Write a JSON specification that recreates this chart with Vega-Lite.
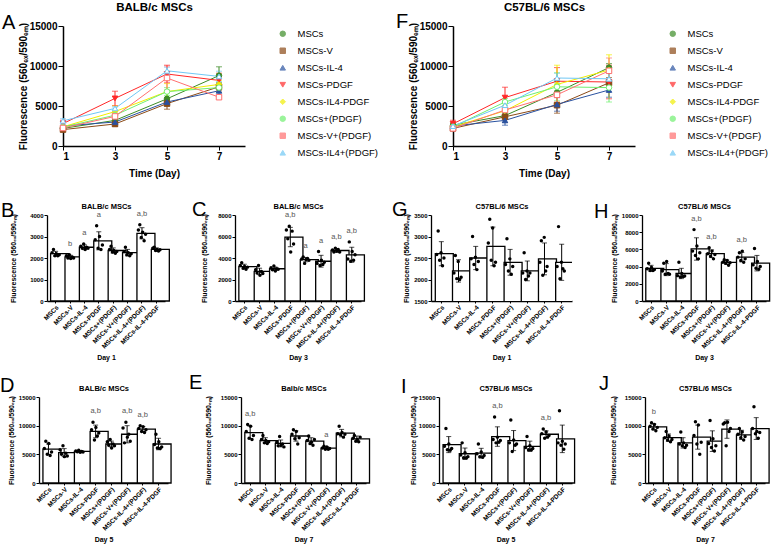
{
"$schema": "https://vega.github.io/schema/vega-lite/v6.json",
"background": "white",
"padding": {"left": 0, "top": 1, "right": 2, "bottom": 2},
"config": {
 "font": "Liberation Sans",
 "view": {"stroke": null},
 "axis": {"grid": false, "domainColor": "black", "tickColor": "black", "labelColor": "black", "titleColor": "black", "labelFontWeight": "bold", "titleFontWeight": "bold", "domainWidth": 1.3, "tickWidth": 1, "labelFontSize": 6, "titleFontSize": 7, "labelFont": "Liberation Sans", "titleFont": "Liberation Sans"},
 "axisX": {"labelAngle": -45, "labelFontSize": 6.5, "tickSize": 2, "labelPadding": 1, "titlePadding": 4},
 "axisY": {"tickSize": 3, "labelPadding": 1, "labelOverlap": false, "labelAngle": 0},
 "title": {"font": "Liberation Sans", "color": "black"},
 "legend": {"labelFont": "Liberation Sans"}
},
"datasets": {
 "LA": [
  {"g":"MSCs","day":1,"m":2200,"sd":110},{"g":"MSCs","day":3,"m":3200,"sd":220},{"g":"MSCs","day":5,"m":5900,"sd":900},{"g":"MSCs","day":7,"m":8800,"sd":1100},
  {"g":"MSCs-V","day":1,"m":2050,"sd":80},{"g":"MSCs-V","day":3,"m":2750,"sd":300},{"g":"MSCs-V","day":5,"m":5300,"sd":700},{"g":"MSCs-V","day":7,"m":7400,"sd":500},
  {"g":"MSCs-IL-4","day":1,"m":2500,"sd":110},{"g":"MSCs-IL-4","day":3,"m":3000,"sd":160},{"g":"MSCs-IL-4","day":5,"m":5500,"sd":150},{"g":"MSCs-IL-4","day":7,"m":6900,"sd":600},
  {"g":"MSCs-PDGF","day":1,"m":2800,"sd":420},{"g":"MSCs-PDGF","day":3,"m":5950,"sd":900},{"g":"MSCs-PDGF","day":5,"m":9000,"sd":1100},{"g":"MSCs-PDGF","day":7,"m":8200,"sd":900},
  {"g":"MSCs-IL4-PDGF","day":1,"m":2400,"sd":70},{"g":"MSCs-IL4-PDGF","day":3,"m":4300,"sd":700},{"g":"MSCs-IL4-PDGF","day":5,"m":6800,"sd":1000},{"g":"MSCs-IL4-PDGF","day":7,"m":7700,"sd":500},
  {"g":"MSCs+(PDGF)","day":1,"m":2350,"sd":120},{"g":"MSCs+(PDGF)","day":3,"m":3850,"sd":200},{"g":"MSCs+(PDGF)","day":5,"m":6800,"sd":500},{"g":"MSCs+(PDGF)","day":7,"m":7300,"sd":600},
  {"g":"MSCs-V+(PDGF)","day":1,"m":2250,"sd":150},{"g":"MSCs-V+(PDGF)","day":3,"m":3700,"sd":550},{"g":"MSCs-V+(PDGF)","day":5,"m":8500,"sd":1500},{"g":"MSCs-V+(PDGF)","day":7,"m":6100,"sd":250},
  {"g":"MSCs-IL4+(PDGF)","day":1,"m":3150,"sd":260},{"g":"MSCs-IL4+(PDGF)","day":3,"m":4700,"sd":180},{"g":"MSCs-IL4+(PDGF)","day":5,"m":9400,"sd":450},{"g":"MSCs-IL4+(PDGF)","day":7,"m":8700,"sd":650}
 ],
 "LF": [
  {"g":"MSCs","day":1,"m":2600,"sd":280},{"g":"MSCs","day":3,"m":3800,"sd":350},{"g":"MSCs","day":5,"m":6700,"sd":1400},{"g":"MSCs","day":7,"m":9800,"sd":500},
  {"g":"MSCs-V","day":1,"m":2200,"sd":260},{"g":"MSCs-V","day":3,"m":3650,"sd":700},{"g":"MSCs-V","day":5,"m":5100,"sd":1000},{"g":"MSCs-V","day":7,"m":7900,"sd":650},
  {"g":"MSCs-IL-4","day":1,"m":2500,"sd":270},{"g":"MSCs-IL-4","day":3,"m":3200,"sd":600},{"g":"MSCs-IL-4","day":5,"m":5200,"sd":850},{"g":"MSCs-IL-4","day":7,"m":7000,"sd":900},
  {"g":"MSCs-PDGF","day":1,"m":2770,"sd":450},{"g":"MSCs-PDGF","day":3,"m":6050,"sd":1300},{"g":"MSCs-PDGF","day":5,"m":8100,"sd":1700},{"g":"MSCs-PDGF","day":7,"m":8000,"sd":2100},
  {"g":"MSCs-IL4-PDGF","day":1,"m":2400,"sd":420},{"g":"MSCs-IL4-PDGF","day":3,"m":4400,"sd":900},{"g":"MSCs-IL4-PDGF","day":5,"m":7700,"sd":2400},{"g":"MSCs-IL4-PDGF","day":7,"m":9500,"sd":1900},
  {"g":"MSCs+(PDGF)","day":1,"m":2400,"sd":300},{"g":"MSCs+(PDGF)","day":3,"m":5500,"sd":450},{"g":"MSCs+(PDGF)","day":5,"m":7400,"sd":1750},{"g":"MSCs+(PDGF)","day":7,"m":7300,"sd":1800},
  {"g":"MSCs-V+(PDGF)","day":1,"m":2200,"sd":230},{"g":"MSCs-V+(PDGF)","day":3,"m":4500,"sd":250},{"g":"MSCs-V+(PDGF)","day":5,"m":6400,"sd":900},{"g":"MSCs-V+(PDGF)","day":7,"m":9400,"sd":1600},
  {"g":"MSCs-IL4+(PDGF)","day":1,"m":2480,"sd":370},{"g":"MSCs-IL4+(PDGF)","day":3,"m":5100,"sd":550},{"g":"MSCs-IL4+(PDGF)","day":5,"m":8500,"sd":600},{"g":"MSCs-IL4+(PDGF)","day":7,"m":8400,"sd":800}
 ],
 "pB": [
  {"g":"MSCs","m":2200,"sd":110,"sig":"","v":[2250,2400,2100,2200,2100,2150]},
  {"g":"MSCs-V","m":2050,"sd":80,"sig":"b","v":[2100,2000,2150,1980,2050,2000]},
  {"g":"MSCs-IL-4","m":2500,"sd":110,"sig":"a","v":[2550,2450,2650,2400,2500,2450]},
  {"g":"MSCs-PDGF","m":2800,"sd":420,"sig":"a","v":[2850,3500,2450,3000,2400,2600]},
  {"g":"MSCs+(PDGF)","m":2350,"sd":120,"sig":"","v":[2400,2550,2280,2350,2220,2300]},
  {"g":"MSCs-V+(PDGF)","m":2250,"sd":150,"sig":"","v":[2300,2500,2150,2250,2100,2200]},
  {"g":"MSCs-IL-4+(PDGF)","m":3150,"sd":260,"sig":"a,b","v":[3300,3550,2950,3200,2800,3100]},
  {"g":"MSCs-IL-4-PDGF","m":2400,"sd":70,"sig":"","v":[2450,2500,2350,2400,2320,2380]}
 ],
 "pC": [
  {"g":"MSCs","m":3200,"sd":220,"sig":"","v":[3300,3550,3050,3200,2950,3150]},
  {"g":"MSCs-V","m":2750,"sd":300,"sig":"","v":[2900,2600,3300,2400,2750,2550]},
  {"g":"MSCs-IL-4","m":3000,"sd":160,"sig":"","v":[3100,2900,3250,2800,3000,2950]},
  {"g":"MSCs-PDGF","m":5950,"sd":900,"sig":"a,b","v":[6600,5800,6950,4550,6500,5300]},
  {"g":"MSCs+(PDGF)","m":3850,"sd":200,"sig":"a","v":[3900,4100,3500,3850,3950,3800]},
  {"g":"MSCs-V+(PDGF)","m":3700,"sd":550,"sig":"a","v":[3500,4600,3300,3800,3400,3600]},
  {"g":"MSCs-IL-4+(PDGF)","m":4700,"sd":180,"sig":"a,b","v":[4750,4550,4900,4650,4800,4550]},
  {"g":"MSCs-IL-4-PDGF","m":4300,"sd":700,"sig":"a,b","v":[3900,5500,3700,4600,3800,4300]}
 ],
 "pD": [
  {"g":"MSCs","m":5900,"sd":900,"sig":"","v":[6000,7300,5000,6900,4800,5400]},
  {"g":"MSCs-V","m":5300,"sd":700,"sig":"","v":[5800,5000,6500,4600,5200,4700]},
  {"g":"MSCs-IL-4","m":5500,"sd":150,"sig":"","v":[5600,5450,5700,5350,5500,5400]},
  {"g":"MSCs-PDGF","m":9000,"sd":1100,"sig":"a,b","v":[9300,10600,7500,9700,8200,8700]},
  {"g":"MSCs+(PDGF)","m":6800,"sd":500,"sig":"","v":[7200,6600,7600,6100,6800,6500]},
  {"g":"MSCs-V+(PDGF)","m":8500,"sd":1500,"sig":"a,b","v":[9600,7000,10600,8000,8500,7300]},
  {"g":"MSCs-IL-4+(PDGF)","m":9400,"sd":450,"sig":"a,b","v":[9500,10000,9000,9800,8800,9300]},
  {"g":"MSCs-IL-4-PDGF","m":6800,"sd":1000,"sig":"","v":[6700,8500,6100,7200,6000,6300]}
 ],
 "pE": [
  {"g":"MSCs","m":8800,"sd":1100,"sig":"a,b","v":[9000,10200,7800,9900,7600,8300]},
  {"g":"MSCs-V","m":7400,"sd":500,"sig":"","v":[7600,8300,7000,7400,6900,7200]},
  {"g":"MSCs-IL-4","m":6900,"sd":600,"sig":"","v":[7100,6500,8100,6600,6800,6300]},
  {"g":"MSCs-PDGF","m":8200,"sd":900,"sig":"","v":[8500,9300,7700,9000,6800,7900]},
  {"g":"MSCs+(PDGF)","m":7300,"sd":600,"sig":"","v":[7400,8200,6900,7100,6600,7600]},
  {"g":"MSCs-V+(PDGF)","m":6100,"sd":250,"sig":"a","v":[6100,6400,5900,6300,5900,6000]},
  {"g":"MSCs-IL-4+(PDGF)","m":8700,"sd":650,"sig":"","v":[8600,9900,8400,8800,8000,8500]},
  {"g":"MSCs-IL-4-PDGF","m":7700,"sd":500,"sig":"","v":[7800,8300,7300,7600,7200,8000]}
 ],
 "pG": [
  {"g":"MSCs","m":2600,"sd":280,"sig":"","v":[2580,3130,2450,2620,2320,2500]},
  {"g":"MSCs-V","m":2200,"sd":260,"sig":"","v":[2150,2560,2020,2420,2000,2050]},
  {"g":"MSCs-IL-4","m":2500,"sd":270,"sig":"","v":[2480,3000,2350,2520,2230,2420]},
  {"g":"MSCs-PDGF","m":2770,"sd":450,"sig":"","v":[2850,3400,2450,3200,2320,2400]},
  {"g":"MSCs+(PDGF)","m":2400,"sd":300,"sig":"","v":[2350,2950,2200,2480,2120,2300]},
  {"g":"MSCs-V+(PDGF)","m":2200,"sd":230,"sig":"","v":[2150,2620,2000,2200,2080,2150]},
  {"g":"MSCs-IL-4+(PDGF)","m":2480,"sd":370,"sig":"","v":[2400,2900,2100,2980,2200,2300]},
  {"g":"MSCs-IL-4-PDGF","m":2400,"sd":420,"sig":"","v":[2300,3230,2020,2400,2250,2200]}
 ],
 "pH": [
  {"g":"MSCs","m":3800,"sd":350,"sig":"","v":[3750,4400,3550,3900,3550,3650]},
  {"g":"MSCs-V","m":3650,"sd":700,"sig":"","v":[3500,4400,3100,4600,3200,3100]},
  {"g":"MSCs-IL-4","m":3200,"sd":600,"sig":"","v":[2950,4500,2800,3200,2850,2900]},
  {"g":"MSCs-PDGF","m":6050,"sd":1300,"sig":"a,b","v":[5800,8300,5300,6400,4900,5600]},
  {"g":"MSCs+(PDGF)","m":5500,"sd":450,"sig":"a,b","v":[5500,6200,5200,5800,4900,5400]},
  {"g":"MSCs-V+(PDGF)","m":4500,"sd":250,"sig":"","v":[4500,4800,4400,4700,4150,4450]},
  {"g":"MSCs-IL-4+(PDGF)","m":5100,"sd":550,"sig":"a,b","v":[5100,5600,4700,5800,4500,4900]},
  {"g":"MSCs-IL-4-PDGF","m":4400,"sd":900,"sig":"","v":[4200,6100,3800,4600,3700,4000]}
 ],
 "pI": [
  {"g":"MSCs","m":6700,"sd":1400,"sig":"","v":[6400,9500,5800,6800,5700,6000]},
  {"g":"MSCs-V","m":5100,"sd":1000,"sig":"","v":[4900,7000,4400,5300,4400,4600]},
  {"g":"MSCs-IL-4","m":5200,"sd":850,"sig":"","v":[5100,6800,4600,5400,4500,4800]},
  {"g":"MSCs-PDGF","m":8100,"sd":1700,"sig":"a,b","v":[7600,11500,7000,8000,7100,7400]},
  {"g":"MSCs+(PDGF)","m":7400,"sd":1750,"sig":"","v":[7000,11000,5500,7500,6600,6800]},
  {"g":"MSCs-V+(PDGF)","m":6400,"sd":900,"sig":"","v":[6200,8100,5800,6500,5800,6000]},
  {"g":"MSCs-IL-4+(PDGF)","m":8500,"sd":600,"sig":"a,b","v":[8600,9400,7800,8900,8000,8300]},
  {"g":"MSCs-IL-4-PDGF","m":7700,"sd":2400,"sig":"","v":[7000,12600,6600,7300,5900,6800]}
 ],
 "pJ": [
  {"g":"MSCs","m":9800,"sd":500,"sig":"b","v":[9900,10500,9400,10200,9100,9700]},
  {"g":"MSCs-V","m":7900,"sd":650,"sig":"","v":[7900,9000,7500,8200,7200,7600]},
  {"g":"MSCs-IL-4","m":7000,"sd":900,"sig":"","v":[6800,8900,6500,7000,6200,6600]},
  {"g":"MSCs-PDGF","m":8000,"sd":2100,"sig":"","v":[8300,10700,6800,10100,5000,7100]},
  {"g":"MSCs+(PDGF)","m":7300,"sd":1800,"sig":"","v":[6900,10900,6200,7700,5600,6500]},
  {"g":"MSCs-V+(PDGF)","m":9400,"sd":1600,"sig":"","v":[10300,10500,6500,10600,9000,9500]},
  {"g":"MSCs-IL-4+(PDGF)","m":8400,"sd":800,"sig":"","v":[8500,9500,7900,8900,7500,8100]},
  {"g":"MSCs-IL-4-PDGF","m":9500,"sd":1900,"sig":"","v":[9500,13300,8600,9000,7800,8800]}
 ]
},
"resolve": {"scale": {"color": "independent", "fill": "independent", "shape": "independent"}},
"spacing": 22,
"vconcat": [
 {"resolve": {"scale": {"color": "independent", "fill": "independent", "shape": "independent"}},
  "hconcat": [
  {"width": 63, "height": 120, "title": {"text": "A", "anchor": "start", "frame": "group", "fontSize": 20, "fontWeight": "normal", "dx": 2, "offset": -7}, "data": {"values": []}, "mark": {"type": "point", "opacity": 0}, "encoding": {}},
  {"width": 182, "height": 120,
   "data": {"name": "LA"},
   "resolve": {"axis": {"x": "independent"}},
   "layer": [
    {"mark": {"type": "line", "strokeWidth": 1},
     "encoding": {"x": {"field": "day", "type": "quantitative", "scale": {"domain": [1, 8], "nice": false}, "axis": {"values": [1,3,5,7], "format": "d", "title": "Time (Day)", "labelAngle": 0, "labelFontSize": 10, "titleFontSize": 10, "tickSize": 4, "labelPadding": 1, "titlePadding": 7, "domainWidth": 1.5}},
      "y": {"field": "m", "type": "quantitative", "title": "Fluorescence (560ₑₓ/590ₑₘ)", "scale": {"domain": [0, 15000], "nice": false}, "axis": {"values": [0,5000,10000,15000], "format": "d", "labelFontSize": 10, "titleFontSize": 10, "tickSize": 5, "labelPadding": 1, "titlePadding": 1, "domainWidth": 1.5, "labelOverlap": false}},
      "color": {"field": "g", "type": "nominal", "scale": {"domain": ["MSCs","MSCs-V","MSCs-IL-4","MSCs-PDGF","MSCs-IL4-PDGF","MSCs+(PDGF)","MSCs-V+(PDGF)","MSCs-IL4+(PDGF)"], "range": ["#3c8c26","#8b4a16","#2a52a0","#ff2828","#f2ee00","#70f070","#ff7070","#70c8f5"]}, "legend": {"title": null, "orient": "right", "offset": 30, "labelFontSize": 9.5, "labelFontWeight": "normal", "symbolSize": 30, "symbolStrokeWidth": 1, "rowPadding": 6, "labelOffset": 10, "padding": 3}}}},
    {"mark": {"type": "errorbar", "ticks": {"size": 6}, "thickness": 1},
     "encoding": {"x": {"field": "day", "type": "quantitative", "scale": {"domain": [1, 8], "nice": false}, "axis": null},
      "y": {"field": "m", "type": "quantitative", "title": "Fluorescence (560ₑₓ/590ₑₘ)", "axis": {"values": [0,5000,10000,15000], "format": "d", "labelFontSize": 10, "titleFontSize": 10, "tickSize": 5, "labelPadding": 1, "titlePadding": 1, "domainWidth": 1.5, "labelOverlap": false}}, "yError": {"field": "sd"},
      "color": {"field": "g", "type": "nominal", "scale": {"domain": ["MSCs","MSCs-V","MSCs-IL-4","MSCs-PDGF","MSCs-IL4-PDGF","MSCs+(PDGF)","MSCs-V+(PDGF)","MSCs-IL4+(PDGF)"], "range": ["#3c8c26","#8b4a16","#2a52a0","#ff2828","#f2ee00","#70f070","#ff7070","#70c8f5"]}, "legend": {"title": null, "orient": "right", "offset": 30, "labelFontSize": 9.5, "labelFontWeight": "normal", "symbolSize": 30, "symbolStrokeWidth": 1, "rowPadding": 6, "labelOffset": 10, "padding": 3}}}},
    {"mark": {"type": "point", "filled": false, "size": 30, "strokeWidth": 1, "opacity": 1},
     "encoding": {"x": {"field": "day", "type": "quantitative", "scale": {"domain": [1, 8], "nice": false}, "axis": {"orient": "top", "title": "BALB/c MSCs", "labels": false, "ticks": false, "domain": false, "titleFontSize": 11.5, "titlePadding": 14}},
      "y": {"field": "m", "type": "quantitative", "title": "Fluorescence (560ₑₓ/590ₑₘ)", "axis": {"values": [0,5000,10000,15000], "format": "d", "labelFontSize": 10, "titleFontSize": 10, "tickSize": 5, "labelPadding": 1, "titlePadding": 1, "domainWidth": 1.5, "labelOverlap": false}},
      "color": {"field": "g", "type": "nominal", "scale": {"domain": ["MSCs","MSCs-V","MSCs-IL-4","MSCs-PDGF","MSCs-IL4-PDGF","MSCs+(PDGF)","MSCs-V+(PDGF)","MSCs-IL4+(PDGF)"], "range": ["#3c8c26","#8b4a16","#2a52a0","#ff2828","#f2ee00","#70f070","#ff7070","#70c8f5"]}, "legend": {"title": null, "orient": "right", "offset": 30, "labelFontSize": 9.5, "labelFontWeight": "normal", "symbolSize": 30, "symbolStrokeWidth": 1, "rowPadding": 6, "labelOffset": 10, "padding": 3}},
      "fill": {"field": "g", "type": "nominal", "scale": {"domain": ["MSCs","MSCs-V","MSCs-IL-4","MSCs-PDGF","MSCs-IL4-PDGF","MSCs+(PDGF)","MSCs-V+(PDGF)","MSCs-IL4+(PDGF)"], "range": ["#3c8c26","#8b4a16","#2a52a0","#ff2828","#f2ee00","white","white","white"]}, "legend": {"title": null, "orient": "right", "offset": 30, "labelFontSize": 9.5, "labelFontWeight": "normal", "symbolSize": 30, "symbolStrokeWidth": 1, "rowPadding": 6, "labelOffset": 10, "padding": 3}},
      "shape": {"field": "g", "type": "nominal", "scale": {"domain": ["MSCs","MSCs-V","MSCs-IL-4","MSCs-PDGF","MSCs-IL4-PDGF","MSCs+(PDGF)","MSCs-V+(PDGF)","MSCs-IL4+(PDGF)"], "range": ["circle","square","triangle-up","triangle-down","diamond","circle","square","triangle-up"]}, "legend": {"title": null, "orient": "right", "offset": 30, "labelFontSize": 9.5, "labelFontWeight": "normal", "symbolSize": 30, "symbolStrokeWidth": 1, "rowPadding": 6, "labelOffset": 10, "padding": 3}}}}
   ]},
  {"width": 208, "height": 120, "title": {"text": "F", "anchor": "start", "frame": "group", "fontSize": 20, "fontWeight": "normal", "dx": 151, "offset": -6}, "data": {"values": []}, "mark": {"type": "point", "opacity": 0}, "encoding": {}},
  {"width": 182, "height": 120,
   "data": {"name": "LF"},
   "resolve": {"axis": {"x": "independent"}},
   "layer": [
    {"mark": {"type": "line", "strokeWidth": 1},
     "encoding": {"x": {"field": "day", "type": "quantitative", "scale": {"domain": [1, 8], "nice": false}, "axis": {"values": [1,3,5,7], "format": "d", "title": "Time (Day)", "labelAngle": 0, "labelFontSize": 10, "titleFontSize": 10, "tickSize": 4, "labelPadding": 1, "titlePadding": 7, "domainWidth": 1.5}},
      "y": {"field": "m", "type": "quantitative", "title": "Fluorescence (560ₑₓ/590ₑₘ)", "scale": {"domain": [0, 15000], "nice": false}, "axis": {"values": [0,5000,10000,15000], "format": "d", "labelFontSize": 10, "titleFontSize": 10, "tickSize": 5, "labelPadding": 1, "titlePadding": 1, "domainWidth": 1.5, "labelOverlap": false}},
      "color": {"field": "g", "type": "nominal", "scale": {"domain": ["MSCs","MSCs-V","MSCs-IL-4","MSCs-PDGF","MSCs-IL4-PDGF","MSCs+(PDGF)","MSCs-V+(PDGF)","MSCs-IL4+(PDGF)"], "range": ["#3c8c26","#8b4a16","#2a52a0","#ff2828","#f2ee00","#70f070","#ff7070","#70c8f5"]}, "legend": {"title": null, "orient": "right", "offset": 30, "labelFontSize": 9.5, "labelFontWeight": "normal", "symbolSize": 30, "symbolStrokeWidth": 1, "rowPadding": 6, "labelOffset": 10, "padding": 3}}}},
    {"mark": {"type": "errorbar", "ticks": {"size": 6}, "thickness": 1},
     "encoding": {"x": {"field": "day", "type": "quantitative", "scale": {"domain": [1, 8], "nice": false}, "axis": null},
      "y": {"field": "m", "type": "quantitative", "title": "Fluorescence (560ₑₓ/590ₑₘ)", "axis": {"values": [0,5000,10000,15000], "format": "d", "labelFontSize": 10, "titleFontSize": 10, "tickSize": 5, "labelPadding": 1, "titlePadding": 1, "domainWidth": 1.5, "labelOverlap": false}}, "yError": {"field": "sd"},
      "color": {"field": "g", "type": "nominal", "scale": {"domain": ["MSCs","MSCs-V","MSCs-IL-4","MSCs-PDGF","MSCs-IL4-PDGF","MSCs+(PDGF)","MSCs-V+(PDGF)","MSCs-IL4+(PDGF)"], "range": ["#3c8c26","#8b4a16","#2a52a0","#ff2828","#f2ee00","#70f070","#ff7070","#70c8f5"]}, "legend": {"title": null, "orient": "right", "offset": 30, "labelFontSize": 9.5, "labelFontWeight": "normal", "symbolSize": 30, "symbolStrokeWidth": 1, "rowPadding": 6, "labelOffset": 10, "padding": 3}}}},
    {"mark": {"type": "point", "filled": false, "size": 30, "strokeWidth": 1, "opacity": 1},
     "encoding": {"x": {"field": "day", "type": "quantitative", "scale": {"domain": [1, 8], "nice": false}, "axis": {"orient": "top", "title": "C57BL/6 MSCs", "labels": false, "ticks": false, "domain": false, "titleFontSize": 11.5, "titlePadding": 14}},
      "y": {"field": "m", "type": "quantitative", "title": "Fluorescence (560ₑₓ/590ₑₘ)", "axis": {"values": [0,5000,10000,15000], "format": "d", "labelFontSize": 10, "titleFontSize": 10, "tickSize": 5, "labelPadding": 1, "titlePadding": 1, "domainWidth": 1.5, "labelOverlap": false}},
      "color": {"field": "g", "type": "nominal", "scale": {"domain": ["MSCs","MSCs-V","MSCs-IL-4","MSCs-PDGF","MSCs-IL4-PDGF","MSCs+(PDGF)","MSCs-V+(PDGF)","MSCs-IL4+(PDGF)"], "range": ["#3c8c26","#8b4a16","#2a52a0","#ff2828","#f2ee00","#70f070","#ff7070","#70c8f5"]}, "legend": {"title": null, "orient": "right", "offset": 30, "labelFontSize": 9.5, "labelFontWeight": "normal", "symbolSize": 30, "symbolStrokeWidth": 1, "rowPadding": 6, "labelOffset": 10, "padding": 3}},
      "fill": {"field": "g", "type": "nominal", "scale": {"domain": ["MSCs","MSCs-V","MSCs-IL-4","MSCs-PDGF","MSCs-IL4-PDGF","MSCs+(PDGF)","MSCs-V+(PDGF)","MSCs-IL4+(PDGF)"], "range": ["#3c8c26","#8b4a16","#2a52a0","#ff2828","#f2ee00","white","white","white"]}, "legend": {"title": null, "orient": "right", "offset": 30, "labelFontSize": 9.5, "labelFontWeight": "normal", "symbolSize": 30, "symbolStrokeWidth": 1, "rowPadding": 6, "labelOffset": 10, "padding": 3}},
      "shape": {"field": "g", "type": "nominal", "scale": {"domain": ["MSCs","MSCs-V","MSCs-IL-4","MSCs-PDGF","MSCs-IL4-PDGF","MSCs+(PDGF)","MSCs-V+(PDGF)","MSCs-IL4+(PDGF)"], "range": ["circle","square","triangle-up","triangle-down","diamond","circle","square","triangle-up"]}, "legend": {"title": null, "orient": "right", "offset": 30, "labelFontSize": 9.5, "labelFontWeight": "normal", "symbolSize": 30, "symbolStrokeWidth": 1, "rowPadding": 6, "labelOffset": 10, "padding": 3}}}}
   ]}
 ], "spacing": 0, "bounds": "flush"},
 {"spacing": 12, "vconcat": [
 {"hconcat": [
  {"width": 47, "height": 86, "title": {"text": "B", "anchor": "start", "frame": "group", "fontSize": 20, "fontWeight": "normal", "dx": 1, "offset": -6}, "data": {"values": []}, "mark": {"type": "point", "opacity": 0}, "encoding": {}},
  {"width": 118, "height": 86,
   "data": {"name": "pB"},
   "resolve": {"axis": {"x": "independent"}},
   "layer": [
    {"mark": {"type": "bar", "fill": "white", "stroke": "black", "strokeWidth": 1.3},
     "encoding": {"x": {"field": "g", "type": "nominal", "scale": {"domain": ["MSCs","MSCs-V","MSCs-IL-4","MSCs-PDGF","MSCs+(PDGF)","MSCs-V+(PDGF)","MSCs-IL-4+(PDGF)","MSCs-IL-4-PDGF"], "paddingInner": 0.3, "paddingOuter": 0.25}, "axis": {"title": "Day 1"}},
      "y": {"field": "m", "type": "quantitative", "title": "Fluorescence (560ₑₓ/590ₑₘ)", "scale": {"domain": [0, 4000], "nice": false}, "axis": {"values": [0,1000,2000,3000,4000], "format": "d", "titlePadding": 13, "labelOverlap": false}}}},
    {"mark": {"type": "errorbar", "ticks": {"size": 5}, "color": "black", "thickness": 1},
     "encoding": {"x": {"field": "g", "type": "nominal", "scale": {"domain": ["MSCs","MSCs-V","MSCs-IL-4","MSCs-PDGF","MSCs+(PDGF)","MSCs-V+(PDGF)","MSCs-IL-4+(PDGF)","MSCs-IL-4-PDGF"]}, "axis": null}, "y": {"field": "m", "type": "quantitative", "title": "Fluorescence (560ₑₓ/590ₑₘ)", "axis": {"values": [0,1000,2000,3000,4000], "format": "d", "titlePadding": 13, "labelOverlap": false}}, "yError": {"field": "sd"}}},
    {"transform": [{"flatten": ["v"]}, {"window": [{"op": "row_number", "as": "r"}], "groupby": ["g"]}],
     "mark": {"type": "circle", "color": "black", "size": 12, "opacity": 1},
     "encoding": {"x": {"field": "g", "type": "nominal", "scale": {"domain": ["MSCs","MSCs-V","MSCs-IL-4","MSCs-PDGF","MSCs+(PDGF)","MSCs-V+(PDGF)","MSCs-IL-4+(PDGF)","MSCs-IL-4-PDGF"]}, "axis": {"orient": "top", "title": "BALB/c MSCs", "labels": false, "ticks": false, "domain": false, "titleFontSize": 7.5, "titlePadding": 5}},
      "xOffset": {"field": "r", "type": "nominal", "scale": {"paddingOuter": 2}}, "y": {"field": "v", "type": "quantitative", "title": "Fluorescence (560ₑₓ/590ₑₘ)", "axis": {"values": [0,1000,2000,3000,4000], "format": "d", "titlePadding": 13, "labelOverlap": false}}}},
    {"transform": [{"filter": "datum.sig"}, {"flatten": ["v"]}, {"aggregate": [{"op": "max", "field": "v", "as": "mx"}], "groupby": ["g", "sig"]}],
     "mark": {"type": "text", "dy": -11, "fontSize": 7.5, "fill": "#555"},
     "encoding": {"x": {"field": "g", "type": "nominal", "scale": {"domain": ["MSCs","MSCs-V","MSCs-IL-4","MSCs-PDGF","MSCs+(PDGF)","MSCs-V+(PDGF)","MSCs-IL-4+(PDGF)","MSCs-IL-4-PDGF"]}, "axis": null}, "y": {"field": "mx", "type": "quantitative", "title": "Fluorescence (560ₑₓ/590ₑₘ)", "axis": {"values": [0,1000,2000,3000,4000], "format": "d", "titlePadding": 13, "labelOverlap": false}}, "text": {"field": "sig"}}}
   ]},
  {"width": 70, "height": 86, "title": {"text": "C", "anchor": "start", "frame": "group", "fontSize": 20, "fontWeight": "normal", "dx": 27, "offset": -5}, "data": {"values": []}, "mark": {"type": "point", "opacity": 0}, "encoding": {}},
  {"width": 126, "height": 86,
   "data": {"name": "pC"},
   "resolve": {"axis": {"x": "independent"}},
   "layer": [
    {"mark": {"type": "bar", "fill": "white", "stroke": "black", "strokeWidth": 1.3},
     "encoding": {"x": {"field": "g", "type": "nominal", "scale": {"domain": ["MSCs","MSCs-V","MSCs-IL-4","MSCs-PDGF","MSCs+(PDGF)","MSCs-V+(PDGF)","MSCs-IL-4+(PDGF)","MSCs-IL-4-PDGF"], "paddingInner": 0.3, "paddingOuter": 0.25}, "axis": {"title": "Day 3"}},
      "y": {"field": "m", "type": "quantitative", "title": "Fluorescence (560ₑₓ/590ₑₘ)", "scale": {"domain": [0, 8000], "nice": false}, "axis": {"values": [0,2000,4000,6000,8000], "format": "d", "titlePadding": 10, "labelOverlap": false}}}},
    {"mark": {"type": "errorbar", "ticks": {"size": 5}, "color": "black", "thickness": 1},
     "encoding": {"x": {"field": "g", "type": "nominal", "scale": {"domain": ["MSCs","MSCs-V","MSCs-IL-4","MSCs-PDGF","MSCs+(PDGF)","MSCs-V+(PDGF)","MSCs-IL-4+(PDGF)","MSCs-IL-4-PDGF"]}, "axis": null}, "y": {"field": "m", "type": "quantitative", "title": "Fluorescence (560ₑₓ/590ₑₘ)", "axis": {"values": [0,2000,4000,6000,8000], "format": "d", "titlePadding": 10, "labelOverlap": false}}, "yError": {"field": "sd"}}},
    {"transform": [{"flatten": ["v"]}, {"window": [{"op": "row_number", "as": "r"}], "groupby": ["g"]}],
     "mark": {"type": "circle", "color": "black", "size": 12, "opacity": 1},
     "encoding": {"x": {"field": "g", "type": "nominal", "scale": {"domain": ["MSCs","MSCs-V","MSCs-IL-4","MSCs-PDGF","MSCs+(PDGF)","MSCs-V+(PDGF)","MSCs-IL-4+(PDGF)","MSCs-IL-4-PDGF"]}, "axis": {"orient": "top", "title": "BALB/c MSCs", "labels": false, "ticks": false, "domain": false, "titleFontSize": 7.5, "titlePadding": 5}},
      "xOffset": {"field": "r", "type": "nominal", "scale": {"paddingOuter": 2}}, "y": {"field": "v", "type": "quantitative", "title": "Fluorescence (560ₑₓ/590ₑₘ)", "axis": {"values": [0,2000,4000,6000,8000], "format": "d", "titlePadding": 10, "labelOverlap": false}}}},
    {"transform": [{"filter": "datum.sig"}, {"flatten": ["v"]}, {"aggregate": [{"op": "max", "field": "v", "as": "mx"}], "groupby": ["g", "sig"]}],
     "mark": {"type": "text", "dy": -11, "fontSize": 7.5, "fill": "#555"},
     "encoding": {"x": {"field": "g", "type": "nominal", "scale": {"domain": ["MSCs","MSCs-V","MSCs-IL-4","MSCs-PDGF","MSCs+(PDGF)","MSCs-V+(PDGF)","MSCs-IL-4+(PDGF)","MSCs-IL-4-PDGF"]}, "axis": null}, "y": {"field": "mx", "type": "quantitative", "title": "Fluorescence (560ₑₓ/590ₑₘ)", "axis": {"values": [0,2000,4000,6000,8000], "format": "d", "titlePadding": 10, "labelOverlap": false}}, "text": {"field": "sig"}}}
   ]},
  {"width": 70, "height": 86, "title": {"text": "G", "anchor": "start", "frame": "group", "fontSize": 20, "fontWeight": "normal", "dx": 31, "offset": -5}, "data": {"values": []}, "mark": {"type": "point", "opacity": 0}, "encoding": {}},
  {"width": 141, "height": 86,
   "data": {"name": "pG"},
   "resolve": {"axis": {"x": "independent"}},
   "layer": [
    {"mark": {"type": "bar", "fill": "white", "stroke": "black", "strokeWidth": 1.3, "clip": true},
     "encoding": {"x": {"field": "g", "type": "nominal", "scale": {"domain": ["MSCs","MSCs-V","MSCs-IL-4","MSCs-PDGF","MSCs+(PDGF)","MSCs-V+(PDGF)","MSCs-IL-4+(PDGF)","MSCs-IL-4-PDGF"], "paddingInner": 0.3, "paddingOuter": 0.25}, "axis": {"title": "Day 1"}},
      "y": {"field": "m", "type": "quantitative", "title": "Fluorescence (560ₑₓ/590ₑₘ)", "scale": {"domain": [1500, 3500], "nice": false, "zero": false}, "axis": {"values": [1500,2000,2500,3000,3500], "format": "d", "titlePadding": 4, "labelOverlap": false}}}},
    {"mark": {"type": "errorbar", "ticks": {"size": 5}, "color": "black", "thickness": 1},
     "encoding": {"x": {"field": "g", "type": "nominal", "scale": {"domain": ["MSCs","MSCs-V","MSCs-IL-4","MSCs-PDGF","MSCs+(PDGF)","MSCs-V+(PDGF)","MSCs-IL-4+(PDGF)","MSCs-IL-4-PDGF"]}, "axis": null}, "y": {"field": "m", "type": "quantitative", "title": "Fluorescence (560ₑₓ/590ₑₘ)", "axis": {"values": [1500,2000,2500,3000,3500], "format": "d", "titlePadding": 4, "labelOverlap": false}}, "yError": {"field": "sd"}}},
    {"transform": [{"flatten": ["v"]}, {"window": [{"op": "row_number", "as": "r"}], "groupby": ["g"]}],
     "mark": {"type": "circle", "color": "black", "size": 12, "opacity": 1},
     "encoding": {"x": {"field": "g", "type": "nominal", "scale": {"domain": ["MSCs","MSCs-V","MSCs-IL-4","MSCs-PDGF","MSCs+(PDGF)","MSCs-V+(PDGF)","MSCs-IL-4+(PDGF)","MSCs-IL-4-PDGF"]}, "axis": {"orient": "top", "title": "C57BL/6 MSCs", "labels": false, "ticks": false, "domain": false, "titleFontSize": 7.5, "titlePadding": 5}},
      "xOffset": {"field": "r", "type": "nominal", "scale": {"paddingOuter": 2}}, "y": {"field": "v", "type": "quantitative", "title": "Fluorescence (560ₑₓ/590ₑₘ)", "axis": {"values": [1500,2000,2500,3000,3500], "format": "d", "titlePadding": 4, "labelOverlap": false}}}}
   ]},
  {"width": 70, "height": 86, "title": {"text": "H", "anchor": "start", "frame": "group", "fontSize": 20, "fontWeight": "normal", "dx": 22, "offset": -7}, "data": {"values": []}, "mark": {"type": "point", "opacity": 0}, "encoding": {}},
  {"width": 124, "height": 86,
   "data": {"name": "pH"},
   "resolve": {"axis": {"x": "independent"}},
   "layer": [
    {"mark": {"type": "bar", "fill": "white", "stroke": "black", "strokeWidth": 1.3},
     "encoding": {"x": {"field": "g", "type": "nominal", "scale": {"domain": ["MSCs","MSCs-V","MSCs-IL-4","MSCs-PDGF","MSCs+(PDGF)","MSCs-V+(PDGF)","MSCs-IL-4+(PDGF)","MSCs-IL-4-PDGF"], "paddingInner": 0.3, "paddingOuter": 0.25}, "axis": {"title": "Day 3"}},
      "y": {"field": "m", "type": "quantitative", "title": "Fluorescence (560ₑₓ/590ₑₘ)", "scale": {"domain": [0, 10000], "nice": false}, "axis": {"values": [0,2000,4000,6000,8000,10000], "format": "d", "titlePadding": 4, "labelOverlap": false}}}},
    {"mark": {"type": "errorbar", "ticks": {"size": 5}, "color": "black", "thickness": 1},
     "encoding": {"x": {"field": "g", "type": "nominal", "scale": {"domain": ["MSCs","MSCs-V","MSCs-IL-4","MSCs-PDGF","MSCs+(PDGF)","MSCs-V+(PDGF)","MSCs-IL-4+(PDGF)","MSCs-IL-4-PDGF"]}, "axis": null}, "y": {"field": "m", "type": "quantitative", "title": "Fluorescence (560ₑₓ/590ₑₘ)", "axis": {"values": [0,2000,4000,6000,8000,10000], "format": "d", "titlePadding": 4, "labelOverlap": false}}, "yError": {"field": "sd"}}},
    {"transform": [{"flatten": ["v"]}, {"window": [{"op": "row_number", "as": "r"}], "groupby": ["g"]}],
     "mark": {"type": "circle", "color": "black", "size": 12, "opacity": 1},
     "encoding": {"x": {"field": "g", "type": "nominal", "scale": {"domain": ["MSCs","MSCs-V","MSCs-IL-4","MSCs-PDGF","MSCs+(PDGF)","MSCs-V+(PDGF)","MSCs-IL-4+(PDGF)","MSCs-IL-4-PDGF"]}, "axis": {"orient": "top", "title": "C57BL/6 MSCs", "labels": false, "ticks": false, "domain": false, "titleFontSize": 7.5, "titlePadding": 5}},
      "xOffset": {"field": "r", "type": "nominal", "scale": {"paddingOuter": 2}}, "y": {"field": "v", "type": "quantitative", "title": "Fluorescence (560ₑₓ/590ₑₘ)", "axis": {"values": [0,2000,4000,6000,8000,10000], "format": "d", "titlePadding": 4, "labelOverlap": false}}}},
    {"transform": [{"filter": "datum.sig"}, {"flatten": ["v"]}, {"aggregate": [{"op": "max", "field": "v", "as": "mx"}], "groupby": ["g", "sig"]}],
     "mark": {"type": "text", "dy": -11, "fontSize": 7.5, "fill": "#555"},
     "encoding": {"x": {"field": "g", "type": "nominal", "scale": {"domain": ["MSCs","MSCs-V","MSCs-IL-4","MSCs-PDGF","MSCs+(PDGF)","MSCs-V+(PDGF)","MSCs-IL-4+(PDGF)","MSCs-IL-4-PDGF"]}, "axis": null}, "y": {"field": "mx", "type": "quantitative", "title": "Fluorescence (560ₑₓ/590ₑₘ)", "axis": {"values": [0,2000,4000,6000,8000,10000], "format": "d", "titlePadding": 4, "labelOverlap": false}}, "text": {"field": "sig"}}}
   ]}
 ], "spacing": 0, "bounds": "flush"},
 {"hconcat": [
  {"width": 39, "height": 86, "title": {"text": "D", "anchor": "start", "frame": "group", "fontSize": 20, "fontWeight": "normal", "dx": 0, "offset": 1}, "data": {"values": []}, "mark": {"type": "point", "opacity": 0}, "encoding": {}},
  {"width": 129, "height": 86,
   "data": {"name": "pD"},
   "resolve": {"axis": {"x": "independent"}},
   "layer": [
    {"mark": {"type": "bar", "fill": "white", "stroke": "black", "strokeWidth": 1.3},
     "encoding": {"x": {"field": "g", "type": "nominal", "scale": {"domain": ["MSCs","MSCs-V","MSCs-IL-4","MSCs-PDGF","MSCs+(PDGF)","MSCs-V+(PDGF)","MSCs-IL-4+(PDGF)","MSCs-IL-4-PDGF"], "paddingInner": 0.3, "paddingOuter": 0.25}, "axis": {"title": "Day 5"}},
      "y": {"field": "m", "type": "quantitative", "title": "Fluorescence (560ₑₓ/590ₑₘ)", "scale": {"domain": [0, 15000], "nice": false}, "axis": {"values": [0,5000,10000,15000], "format": "d", "titlePadding": 4, "labelOverlap": false}}}},
    {"mark": {"type": "errorbar", "ticks": {"size": 5}, "color": "black", "thickness": 1},
     "encoding": {"x": {"field": "g", "type": "nominal", "scale": {"domain": ["MSCs","MSCs-V","MSCs-IL-4","MSCs-PDGF","MSCs+(PDGF)","MSCs-V+(PDGF)","MSCs-IL-4+(PDGF)","MSCs-IL-4-PDGF"]}, "axis": null}, "y": {"field": "m", "type": "quantitative", "title": "Fluorescence (560ₑₓ/590ₑₘ)", "axis": {"values": [0,5000,10000,15000], "format": "d", "titlePadding": 4, "labelOverlap": false}}, "yError": {"field": "sd"}}},
    {"transform": [{"flatten": ["v"]}, {"window": [{"op": "row_number", "as": "r"}], "groupby": ["g"]}],
     "mark": {"type": "circle", "color": "black", "size": 12, "opacity": 1},
     "encoding": {"x": {"field": "g", "type": "nominal", "scale": {"domain": ["MSCs","MSCs-V","MSCs-IL-4","MSCs-PDGF","MSCs+(PDGF)","MSCs-V+(PDGF)","MSCs-IL-4+(PDGF)","MSCs-IL-4-PDGF"]}, "axis": {"orient": "top", "title": "BALB/c MSCs", "labels": false, "ticks": false, "domain": false, "titleFontSize": 7.5, "titlePadding": 5}},
      "xOffset": {"field": "r", "type": "nominal", "scale": {"paddingOuter": 2}}, "y": {"field": "v", "type": "quantitative", "title": "Fluorescence (560ₑₓ/590ₑₘ)", "axis": {"values": [0,5000,10000,15000], "format": "d", "titlePadding": 4, "labelOverlap": false}}}},
    {"transform": [{"filter": "datum.sig"}, {"flatten": ["v"]}, {"aggregate": [{"op": "max", "field": "v", "as": "mx"}], "groupby": ["g", "sig"]}],
     "mark": {"type": "text", "dy": -11, "fontSize": 7.5, "fill": "#555"},
     "encoding": {"x": {"field": "g", "type": "nominal", "scale": {"domain": ["MSCs","MSCs-V","MSCs-IL-4","MSCs-PDGF","MSCs+(PDGF)","MSCs-V+(PDGF)","MSCs-IL-4+(PDGF)","MSCs-IL-4-PDGF"]}, "axis": null}, "y": {"field": "mx", "type": "quantitative", "title": "Fluorescence (560ₑₓ/590ₑₘ)", "axis": {"values": [0,5000,10000,15000], "format": "d", "titlePadding": 4, "labelOverlap": false}}, "text": {"field": "sig"}}}
   ]},
  {"width": 73, "height": 86, "title": {"text": "E", "anchor": "start", "frame": "group", "fontSize": 20, "fontWeight": "normal", "dx": 21, "offset": 4}, "data": {"values": []}, "mark": {"type": "point", "opacity": 0}, "encoding": {}},
  {"width": 125, "height": 86,
   "data": {"name": "pE"},
   "resolve": {"axis": {"x": "independent"}},
   "layer": [
    {"mark": {"type": "bar", "fill": "white", "stroke": "black", "strokeWidth": 1.3},
     "encoding": {"x": {"field": "g", "type": "nominal", "scale": {"domain": ["MSCs","MSCs-V","MSCs-IL-4","MSCs-PDGF","MSCs+(PDGF)","MSCs-V+(PDGF)","MSCs-IL-4+(PDGF)","MSCs-IL-4-PDGF"], "paddingInner": 0.3, "paddingOuter": 0.25}, "axis": {"title": "Day 7"}},
      "y": {"field": "m", "type": "quantitative", "title": "Fluorescence (560ₑₓ/590ₑₘ)", "scale": {"domain": [0, 15000], "nice": false}, "axis": {"values": [0,5000,10000,15000], "format": "d", "titlePadding": 9, "labelOverlap": false}}}},
    {"mark": {"type": "errorbar", "ticks": {"size": 5}, "color": "black", "thickness": 1},
     "encoding": {"x": {"field": "g", "type": "nominal", "scale": {"domain": ["MSCs","MSCs-V","MSCs-IL-4","MSCs-PDGF","MSCs+(PDGF)","MSCs-V+(PDGF)","MSCs-IL-4+(PDGF)","MSCs-IL-4-PDGF"]}, "axis": null}, "y": {"field": "m", "type": "quantitative", "title": "Fluorescence (560ₑₓ/590ₑₘ)", "axis": {"values": [0,5000,10000,15000], "format": "d", "titlePadding": 9, "labelOverlap": false}}, "yError": {"field": "sd"}}},
    {"transform": [{"flatten": ["v"]}, {"window": [{"op": "row_number", "as": "r"}], "groupby": ["g"]}],
     "mark": {"type": "circle", "color": "black", "size": 12, "opacity": 1},
     "encoding": {"x": {"field": "g", "type": "nominal", "scale": {"domain": ["MSCs","MSCs-V","MSCs-IL-4","MSCs-PDGF","MSCs+(PDGF)","MSCs-V+(PDGF)","MSCs-IL-4+(PDGF)","MSCs-IL-4-PDGF"]}, "axis": {"orient": "top", "title": "Balb/c MSCs", "labels": false, "ticks": false, "domain": false, "titleFontSize": 7.5, "titlePadding": 5}},
      "xOffset": {"field": "r", "type": "nominal", "scale": {"paddingOuter": 2}}, "y": {"field": "v", "type": "quantitative", "title": "Fluorescence (560ₑₓ/590ₑₘ)", "axis": {"values": [0,5000,10000,15000], "format": "d", "titlePadding": 9, "labelOverlap": false}}}},
    {"transform": [{"filter": "datum.sig"}, {"flatten": ["v"]}, {"aggregate": [{"op": "max", "field": "v", "as": "mx"}], "groupby": ["g", "sig"]}],
     "mark": {"type": "text", "dy": -11, "fontSize": 7.5, "fill": "#555"},
     "encoding": {"x": {"field": "g", "type": "nominal", "scale": {"domain": ["MSCs","MSCs-V","MSCs-IL-4","MSCs-PDGF","MSCs+(PDGF)","MSCs-V+(PDGF)","MSCs-IL-4+(PDGF)","MSCs-IL-4-PDGF"]}, "axis": null}, "y": {"field": "mx", "type": "quantitative", "title": "Fluorescence (560ₑₓ/590ₑₘ)", "axis": {"values": [0,5000,10000,15000], "format": "d", "titlePadding": 9, "labelOverlap": false}}, "text": {"field": "sig"}}}
   ]},
  {"width": 73, "height": 86, "title": {"text": "I", "anchor": "start", "frame": "group", "fontSize": 20, "fontWeight": "normal", "dx": 35, "offset": 0}, "data": {"values": []}, "mark": {"type": "point", "opacity": 0}, "encoding": {}},
  {"width": 133, "height": 86,
   "data": {"name": "pI"},
   "resolve": {"axis": {"x": "independent"}},
   "layer": [
    {"mark": {"type": "bar", "fill": "white", "stroke": "black", "strokeWidth": 1.3},
     "encoding": {"x": {"field": "g", "type": "nominal", "scale": {"domain": ["MSCs","MSCs-V","MSCs-IL-4","MSCs-PDGF","MSCs+(PDGF)","MSCs-V+(PDGF)","MSCs-IL-4+(PDGF)","MSCs-IL-4-PDGF"], "paddingInner": 0.3, "paddingOuter": 0.25}, "axis": {"title": "Day 5"}},
      "y": {"field": "m", "type": "quantitative", "title": "Fluorescence (560ₑₓ/590ₑₘ)", "scale": {"domain": [0, 15000], "nice": false}, "axis": {"values": [0,5000,10000,15000], "format": "d", "titlePadding": 2, "labelOverlap": false}}}},
    {"mark": {"type": "errorbar", "ticks": {"size": 5}, "color": "black", "thickness": 1},
     "encoding": {"x": {"field": "g", "type": "nominal", "scale": {"domain": ["MSCs","MSCs-V","MSCs-IL-4","MSCs-PDGF","MSCs+(PDGF)","MSCs-V+(PDGF)","MSCs-IL-4+(PDGF)","MSCs-IL-4-PDGF"]}, "axis": null}, "y": {"field": "m", "type": "quantitative", "title": "Fluorescence (560ₑₓ/590ₑₘ)", "axis": {"values": [0,5000,10000,15000], "format": "d", "titlePadding": 2, "labelOverlap": false}}, "yError": {"field": "sd"}}},
    {"transform": [{"flatten": ["v"]}, {"window": [{"op": "row_number", "as": "r"}], "groupby": ["g"]}],
     "mark": {"type": "circle", "color": "black", "size": 12, "opacity": 1},
     "encoding": {"x": {"field": "g", "type": "nominal", "scale": {"domain": ["MSCs","MSCs-V","MSCs-IL-4","MSCs-PDGF","MSCs+(PDGF)","MSCs-V+(PDGF)","MSCs-IL-4+(PDGF)","MSCs-IL-4-PDGF"]}, "axis": {"orient": "top", "title": "C57BL/6 MSCs", "labels": false, "ticks": false, "domain": false, "titleFontSize": 7.5, "titlePadding": 5}},
      "xOffset": {"field": "r", "type": "nominal", "scale": {"paddingOuter": 2}}, "y": {"field": "v", "type": "quantitative", "title": "Fluorescence (560ₑₓ/590ₑₘ)", "axis": {"values": [0,5000,10000,15000], "format": "d", "titlePadding": 2, "labelOverlap": false}}}},
    {"transform": [{"filter": "datum.sig"}, {"flatten": ["v"]}, {"aggregate": [{"op": "max", "field": "v", "as": "mx"}], "groupby": ["g", "sig"]}],
     "mark": {"type": "text", "dy": -11, "fontSize": 7.5, "fill": "#555"},
     "encoding": {"x": {"field": "g", "type": "nominal", "scale": {"domain": ["MSCs","MSCs-V","MSCs-IL-4","MSCs-PDGF","MSCs+(PDGF)","MSCs-V+(PDGF)","MSCs-IL-4+(PDGF)","MSCs-IL-4-PDGF"]}, "axis": null}, "y": {"field": "mx", "type": "quantitative", "title": "Fluorescence (560ₑₓ/590ₑₘ)", "axis": {"values": [0,5000,10000,15000], "format": "d", "titlePadding": 2, "labelOverlap": false}}, "text": {"field": "sig"}}}
   ]},
  {"width": 73, "height": 86, "title": {"text": "J", "anchor": "start", "frame": "group", "fontSize": 20, "fontWeight": "normal", "dx": 27, "offset": 3}, "data": {"values": []}, "mark": {"type": "point", "opacity": 0}, "encoding": {}},
  {"width": 120, "height": 86,
   "data": {"name": "pJ"},
   "resolve": {"axis": {"x": "independent"}},
   "layer": [
    {"mark": {"type": "bar", "fill": "white", "stroke": "black", "strokeWidth": 1.3},
     "encoding": {"x": {"field": "g", "type": "nominal", "scale": {"domain": ["MSCs","MSCs-V","MSCs-IL-4","MSCs-PDGF","MSCs+(PDGF)","MSCs-V+(PDGF)","MSCs-IL-4+(PDGF)","MSCs-IL-4-PDGF"], "paddingInner": 0.3, "paddingOuter": 0.25}, "axis": {"title": "Day 7"}},
      "y": {"field": "m", "type": "quantitative", "title": "Fluorescence (560ₑₓ/590ₑₘ)", "scale": {"domain": [0, 15000], "nice": false}, "axis": {"values": [0,5000,10000,15000], "format": "d", "titlePadding": 8, "labelOverlap": false}}}},
    {"mark": {"type": "errorbar", "ticks": {"size": 5}, "color": "black", "thickness": 1},
     "encoding": {"x": {"field": "g", "type": "nominal", "scale": {"domain": ["MSCs","MSCs-V","MSCs-IL-4","MSCs-PDGF","MSCs+(PDGF)","MSCs-V+(PDGF)","MSCs-IL-4+(PDGF)","MSCs-IL-4-PDGF"]}, "axis": null}, "y": {"field": "m", "type": "quantitative", "title": "Fluorescence (560ₑₓ/590ₑₘ)", "axis": {"values": [0,5000,10000,15000], "format": "d", "titlePadding": 8, "labelOverlap": false}}, "yError": {"field": "sd"}}},
    {"transform": [{"flatten": ["v"]}, {"window": [{"op": "row_number", "as": "r"}], "groupby": ["g"]}],
     "mark": {"type": "circle", "color": "black", "size": 12, "opacity": 1},
     "encoding": {"x": {"field": "g", "type": "nominal", "scale": {"domain": ["MSCs","MSCs-V","MSCs-IL-4","MSCs-PDGF","MSCs+(PDGF)","MSCs-V+(PDGF)","MSCs-IL-4+(PDGF)","MSCs-IL-4-PDGF"]}, "axis": {"orient": "top", "title": "C57BL/6 MSCs", "labels": false, "ticks": false, "domain": false, "titleFontSize": 7.5, "titlePadding": 5}},
      "xOffset": {"field": "r", "type": "nominal", "scale": {"paddingOuter": 2}}, "y": {"field": "v", "type": "quantitative", "title": "Fluorescence (560ₑₓ/590ₑₘ)", "axis": {"values": [0,5000,10000,15000], "format": "d", "titlePadding": 8, "labelOverlap": false}}}},
    {"transform": [{"filter": "datum.sig"}, {"flatten": ["v"]}, {"aggregate": [{"op": "max", "field": "v", "as": "mx"}], "groupby": ["g", "sig"]}],
     "mark": {"type": "text", "dy": -11, "fontSize": 7.5, "fill": "#555"},
     "encoding": {"x": {"field": "g", "type": "nominal", "scale": {"domain": ["MSCs","MSCs-V","MSCs-IL-4","MSCs-PDGF","MSCs+(PDGF)","MSCs-V+(PDGF)","MSCs-IL-4+(PDGF)","MSCs-IL-4-PDGF"]}, "axis": null}, "y": {"field": "mx", "type": "quantitative", "title": "Fluorescence (560ₑₓ/590ₑₘ)", "axis": {"values": [0,5000,10000,15000], "format": "d", "titlePadding": 8, "labelOverlap": false}}, "text": {"field": "sig"}}}
   ]}
 ], "spacing": 0, "bounds": "flush"}
 ]}
]
}
